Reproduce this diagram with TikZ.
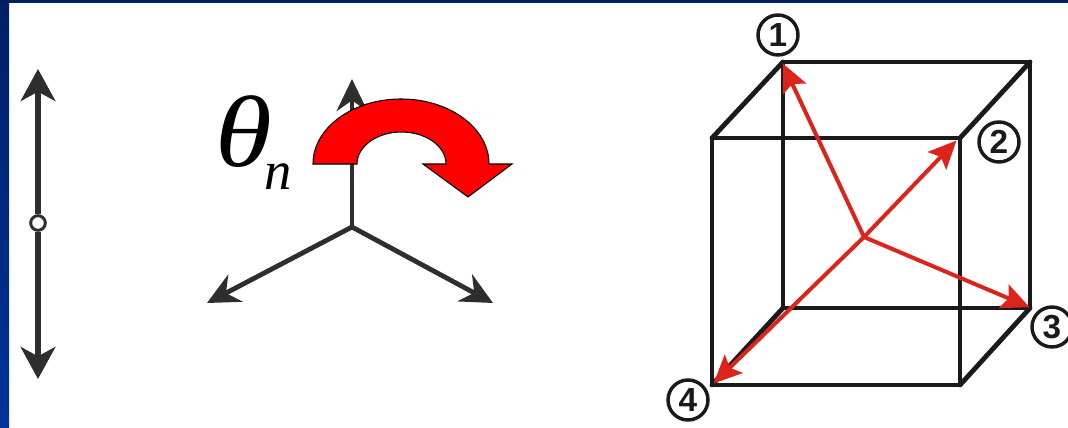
\documentclass[tikz,border=0pt]{standalone}
\usepackage{fontspec}
\setmainfont{Liberation Sans}
\newfontfamily\serifit{Liberation Serif}
\usetikzlibrary{arrows.meta}
\definecolor{navy}{HTML}{001F66}
\definecolor{royal}{HTML}{003399}
\definecolor{cubered}{HTML}{DC241C}
\definecolor{ink}{HTML}{1A1A1A}
\definecolor{gray1}{HTML}{2E2E2E}
\tikzset{
  cubeedge/.style={draw=ink,line width=3.6pt,line cap=round,line join=round},
  redarrow/.style={draw=cubered,line width=3pt,-{Stealth[length=21pt,width=19pt,inset=4pt]},shorten >=-0.5pt},
  blackarrow/.style={draw=gray1,line width=4pt,-{Stealth[length=24pt,width=26pt,inset=7pt]}},
  tripodarrow/.style={draw=gray1,line width=3.6pt,-{Stealth[length=24pt,width=23pt,inset=8pt]}},
  numcircle/.style={circle,draw=ink,line width=2.6pt,minimum size=30pt,inner sep=0pt,fill=white,font=\fontsize{25}{25}\selectfont\bfseries,text=ink},
  pivot/.style={circle,draw=gray1,line width=2.2pt,fill=white,minimum size=11pt,inner sep=0pt},
}
\begin{document}
\begin{tikzpicture}[x=0.75pt,y=-0.75pt]
\useasboundingbox (0,0) rectangle (1068,428);
\fill[white] (0,0) rectangle (1068,428);
\fill[top color=navy,bottom color=royal] (0,0) rectangle (9,428);
\fill[navy] (0,0) rectangle (1068,3);
% left arrow
\coordinate (ltop) at (38,69);
\coordinate (lbot) at (38,379);
\node[pivot] (lmid) at (38,223) {};
\draw[blackarrow] (lmid) -- (ltop);
\draw[blackarrow] (lmid) -- (lbot);
% tripod
\coordinate (tc) at (352,227);
\coordinate (tu) at (352,79);
\coordinate (tl) at (207,303);
\coordinate (tr) at (493,303);
\draw[tripodarrow] (tc) -- (tu);
\draw[tripodarrow] (tc) -- (tl);
\draw[tripodarrow] (tc) -- (tr);
% rotation
\draw[black,fill=red,line width=0.8pt,line join=miter] (313,164) arc[start angle=180,end angle=360,x radius=88,y radius=65]
  -- (512,164) -- (468,197) -- (423,164) -- (446,164)
  arc[start angle=0,end angle=-180,x radius=44.5,y radius=32] -- cycle;
\node[inner sep=0pt] (theta) at (244,132) {\serifit\itshape\fontsize{76}{76}\selectfont\scalebox{1.14}[1]{θ}};
\node[inner sep=0pt,anchor=base] (sub) at (278,190) {\serifit\itshape\fontsize{41}{41}\selectfont n};
% cube
\coordinate (fa) at (712,138);
\coordinate (fb) at (960,138);
\coordinate (fc) at (960,385);
\coordinate (fd) at (712,385);
\coordinate (ba) at (783,62);
\coordinate (bb) at (1030,62);
\coordinate (bc) at (1030,308);
\coordinate (bd) at (783,308);
\draw[cubeedge] (ba) -- (bb) -- (bc) -- (bd) -- cycle;
\draw[cubeedge] (fa) -- (fb) -- (fc) -- (fd) -- cycle;
\draw[cubeedge] (fa) -- (ba) (fb) -- (bb) (fc) -- (bc) (fd) -- (bd);
% red arrows
\coordinate (cc) at (864,237);
\coordinate (t1) at (783,64);
\coordinate (t2) at (956,141);
\coordinate (t3) at (1029,307);
\coordinate (t4) at (714,383);
\draw[redarrow] (cc) -- (t1);
\draw[redarrow] (cc) -- (t2);
\draw[redarrow] (cc) -- (t3);
\draw[redarrow] (cc) -- (t4);
% numbers
\node[numcircle] (n1) at (778,35) {1};
\node[numcircle] (n2) at (999,142) {2};
\node[numcircle] (n3) at (1052,327) {3};
\node[numcircle] (n4) at (688,400) {4};
\end{tikzpicture}
\end{document}
